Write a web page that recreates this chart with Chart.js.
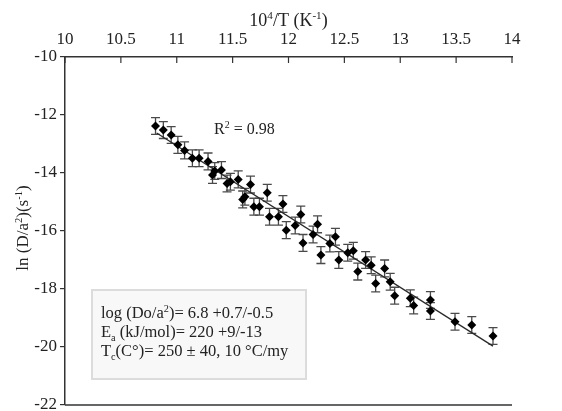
<!DOCTYPE html>
<html>
<head>
<meta charset="utf-8">
<script src="https://cdn.jsdelivr.net/npm/chart.js@4.4.1/dist/chart.umd.min.js"></script>
<style>
  html, body { margin: 0; padding: 0; background: #fff; }
  canvas { display: block; }
</style>
</head>
<body>
<canvas id="arrhenius" width="562" height="411"></canvas>
<script>
// diffusion data: 10^4/T vs ln(D/a^2)
const invTemp = [10.81, 10.88, 10.95, 11.01, 11.07, 11.14, 11.20, 11.28, 11.32, 11.34,
  11.40, 11.45, 11.48, 11.55, 11.66, 11.59, 11.61, 11.69, 11.74, 11.81,
  11.83, 11.91, 11.95, 11.98, 12.06, 12.11, 12.13, 12.22, 12.26, 12.29,
  12.37, 12.42, 12.45, 12.53, 12.58, 12.62, 12.69, 12.74, 12.78, 12.86,
  12.91, 12.95, 13.09, 13.12, 13.27, 13.27, 13.49, 13.64, 13.83];
const lnD = [-12.38, -12.52, -12.69, -13.03, -13.22, -13.49, -13.49, -13.60, -14.07, -13.93,
  -13.90, -14.36, -14.30, -14.22, -14.40, -14.91, -14.82, -15.16, -15.16, -14.68,
  -15.51, -15.51, -15.07, -15.97, -15.81, -15.43, -16.41, -16.12, -15.77, -16.83,
  -16.43, -16.20, -17.00, -16.75, -16.68, -17.40, -17.00, -17.18, -17.81, -17.29,
  -17.75, -18.23, -18.32, -18.57, -18.38, -18.76, -19.13, -19.24, -19.62];
const lnDErr = [0.29, 0.29, 0.29, 0.29, 0.29, 0.29, 0.29, 0.29, 0.29, 0.29,
  0.29, 0.29, 0.29, 0.29, 0.29, 0.29, 0.29, 0.29, 0.29, 0.29,
  0.29, 0.29, 0.29, 0.29, 0.29, 0.29, 0.29, 0.29, 0.29, 0.29,
  0.29, 0.29, 0.29, 0.29, 0.29, 0.29, 0.29, 0.29, 0.29, 0.29,
  0.29, 0.29, 0.29, 0.29, 0.29, 0.29, 0.29, 0.29, 0.29];

// regression line end points
const fitX = [10.82, 13.83];
const fitY = [-12.62, -19.97];

const xTicks = [10, 10.5, 11, 11.5, 12, 12.5, 13, 13.5, 14];
const yTicks = [-22, -20, -18, -16, -14, -12, -10];

const SERIF = "'Liberation Serif', 'Times New Roman', serif";
const INK = "#222";

// draws a run of text pieces, some raised or lowered
function drawRich(ctx, parts, x, y, size) {
  let cx = x;
  parts.forEach((p) => {
    const s = p.sup || p.sub ? size * 0.62 : size;
    ctx.font = s + "px " + SERIF;
    const dy = p.sup ? -size * 0.38 : p.sub ? size * 0.22 : 0;
    ctx.fillText(p.t, cx, y + dy);
    cx += ctx.measureText(p.t).width;
  });
  return cx - x;
}

function richWidth(ctx, parts, size) {
  let w = 0;
  parts.forEach((p) => {
    const s = p.sup || p.sub ? size * 0.62 : size;
    ctx.font = s + "px " + SERIF;
    w += ctx.measureText(p.t).width;
  });
  return w;
}

const xTitle = [{ t: "10" }, { t: "4", sup: true }, { t: "/T (K" }, { t: "-1", sup: true }, { t: ")" }];
const yTitle = [{ t: "ln (D/a" }, { t: "2", sup: true }, { t: ")(s" }, { t: "-1", sup: true }, { t: ")" }];
const boxLines = [
  [{ t: "log (Do/a" }, { t: "2", sup: true }, { t: ")= 6.8 +0.7/-0.5" }],
  [{ t: "E" }, { t: "a", sub: true }, { t: " (kJ/mol)= 220 +9/-13" }],
  [{ t: "T" }, { t: "c", sub: true }, { t: "(C°)= 250 ± 40, 10 °C/my" }],
];
const r2Label = [{ t: "R" }, { t: "2", sup: true }, { t: " = 0.98" }];

const decorations = {
  id: "decorations",
  beforeDatasetsDraw(chart) {
    const { ctx, scales: { x, y } } = chart;
    // error bars
    ctx.save();
    ctx.strokeStyle = "#4a4a4a";
    ctx.lineWidth = 1.3;
    invTemp.forEach((v, i) => {
      const px = x.getPixelForValue(v);
      const top = y.getPixelForValue(lnD[i] + lnDErr[i]);
      const bot = y.getPixelForValue(lnD[i] - lnDErr[i]);
      ctx.beginPath();
      ctx.moveTo(px, top); ctx.lineTo(px, bot);
      ctx.moveTo(px - 4.5, top); ctx.lineTo(px + 4.5, top);
      ctx.moveTo(px - 4.5, bot); ctx.lineTo(px + 4.5, bot);
      ctx.stroke();
    });
    ctx.restore();
  },
  afterDraw(chart) {
    const { ctx, chartArea: a, scales: { x } } = chart;
    ctx.save();
    ctx.strokeStyle = "#333";
    ctx.lineWidth = 1.5;
    // bottom frame line
    ctx.beginPath();
    ctx.moveTo(a.left, a.bottom);
    ctx.lineTo(a.right, a.bottom);
    ctx.stroke();
    // top axis ticks point into the plot
    ctx.lineWidth = 1.2;
    xTicks.forEach((v) => {
      const px = x.getPixelForValue(v);
      ctx.beginPath();
      ctx.moveTo(px, a.top);
      ctx.lineTo(px, a.top + 6);
      ctx.stroke();
    });

    ctx.fillStyle = INK;
    ctx.textBaseline = "alphabetic";
    // axis titles
    const xw = richWidth(ctx, xTitle, 18);
    drawRich(ctx, xTitle, (a.left + a.right) / 2 - xw / 2, 26, 18);
    ctx.save();
    ctx.translate(28, 228);
    ctx.rotate(-Math.PI / 2);
    const yw = richWidth(ctx, yTitle, 17);
    drawRich(ctx, yTitle, -yw / 2, 0, 17);
    ctx.restore();

    // R^2 note
    drawRich(ctx, r2Label, a.left + 149, 134, 16);

    // parameter box
    const bx = a.left + 27, by = a.top + 233;
    ctx.fillStyle = "#f8f8f8";
    ctx.fillRect(bx, by, 214, 89);
    ctx.strokeStyle = "#dcdcdc";
    ctx.lineWidth = 2;
    ctx.strokeRect(bx, by, 214, 89);
    ctx.fillStyle = INK;
    boxLines.forEach((line, i) => {
      drawRich(ctx, line, bx + 9, by + 28 + i * 19, 16.5);
    });
    ctx.restore();
  },
};

new Chart(document.getElementById("arrhenius"), {
  type: "scatter",
  data: {
    datasets: [
      {
        label: "ln(D/a2)",
        data: invTemp.map((v, i) => ({ x: v, y: lnD[i] })),
        pointStyle: "rectRot",
        pointRadius: 4.5,
        pointHoverRadius: 4.5,
        backgroundColor: "#000",
        borderColor: "#000",
        borderWidth: 0,
      },
      {
        label: "fit",
        type: "line",
        data: fitX.map((v, i) => ({ x: v, y: fitY[i] })),
        borderColor: "#2a2a2a",
        borderWidth: 1.3,
        pointRadius: 0,
        fill: false,
      },
    ],
  },
  options: {
    responsive: false,
    animation: false,
    devicePixelRatio: 1,
    layout: { padding: { top: 0, left: 0, right: 50, bottom: 6 } },
    plugins: { legend: { display: false }, tooltip: { enabled: false } },
    scales: {
      x: {
        type: "linear",
        position: "top",
        min: 10,
        max: 14,
        afterBuildTicks: (s) => { s.ticks = xTicks.map((v) => ({ value: v })); },
        afterFit: (s) => { s.height = 57; s.paddingLeft = 0; s.paddingRight = 0; },
        grid: { display: false, drawTicks: false },
        border: { display: true, color: "#333", width: 1.5 },
        ticks: {
          color: INK,
          font: { family: SERIF, size: 17 },
          padding: 7,
          maxRotation: 0,
          callback: (v) => String(v),
        },
      },
      y: {
        type: "linear",
        position: "left",
        min: -22,
        max: -10,
        afterBuildTicks: (s) => { s.ticks = yTicks.map((v) => ({ value: v })); },
        afterFit: (s) => { s.width = 65; s.paddingTop = 0; s.paddingBottom = 0; },
        grid: { display: true, drawOnChartArea: false, drawTicks: true, tickLength: 5, color: "#333", lineWidth: 1.2 },
        border: { display: true, color: "#333", width: 1.5 },
        ticks: {
          color: INK,
          font: { family: SERIF, size: 17 },
          padding: 3,
          callback: (v) => String(v),
        },
      },
    },
  },
  plugins: [decorations],
});
</script>
</body>
</html>
